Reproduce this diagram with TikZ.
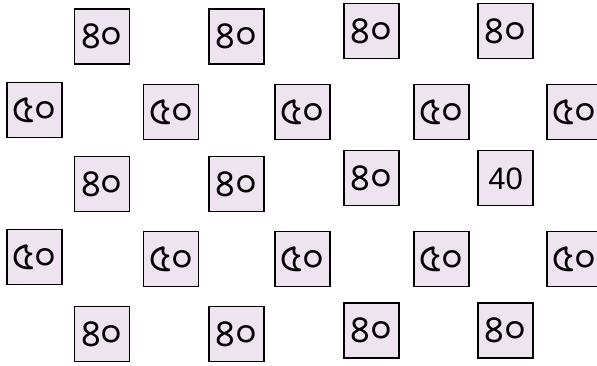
\documentclass[tikz,border=0pt]{standalone}
\usepackage{fontspec}
\newfontfamily\bnfont[Script=Bengali]{Hind Siliguri}
\newfontfamily\latfont{Liberation Sans}
\definecolor{boxfill}{RGB}{238,228,240}
\begin{document}
\begin{tikzpicture}[x=1pt,y=-1pt,
  numbox/.style={draw=black, line width=1.6pt, fill=boxfill, minimum width=55pt, minimum height=55pt, inner sep=0pt, text height=24pt, text depth=0pt, font=\bnfont\fontsize{38}{40}\selectfont},
  latbox/.style={numbox, text height=22.2pt, font=\latfont\fontsize{31}{34}\selectfont}]
\clip (0,0) rectangle (597,365);
\useasboundingbox (0,0) rectangle (597,365);
% row 1
\node[numbox] (a1) at (102,36.5) {৪০};
\node[numbox] (a2) at (236.5,36.5) {৪০};
\node[numbox] (a3) at (371.5,31) {৪০};
\node[numbox] (a4) at (505.5,31) {৪০};
% row 2
\node[numbox] (b1) at (34.5,110) {৫০};
\node[numbox] (b2) at (171,112) {৫০};
\node[numbox] (b3) at (302.5,112) {৫০};
\node[numbox] (b4) at (441.5,112) {৫০};
\node[numbox] (b5) at (574.5,112) {৫০};
% row 3
\node[numbox] (c1) at (102,184) {৪০};
\node[numbox] (c2) at (236.5,184) {৪০};
\node[numbox] (c3) at (371.5,178) {৪০};
\node[latbox] (c4) at (505.5,178) {40};
% row 4
\node[numbox] (d1) at (34.5,257) {৫০};
\node[numbox] (d2) at (171,259) {৫০};
\node[numbox] (d3) at (302.5,259) {৫০};
\node[numbox] (d4) at (441.5,259) {৫০};
\node[numbox] (d5) at (574.5,259) {৫০};
% row 5
\node[numbox] (e1) at (102,334) {৪০};
\node[numbox] (e2) at (236.5,334) {৪০};
\node[numbox] (e3) at (371.5,330.5) {৪০};
\node[numbox] (e4) at (505.5,330.5) {৪০};
\end{tikzpicture}
\end{document}
